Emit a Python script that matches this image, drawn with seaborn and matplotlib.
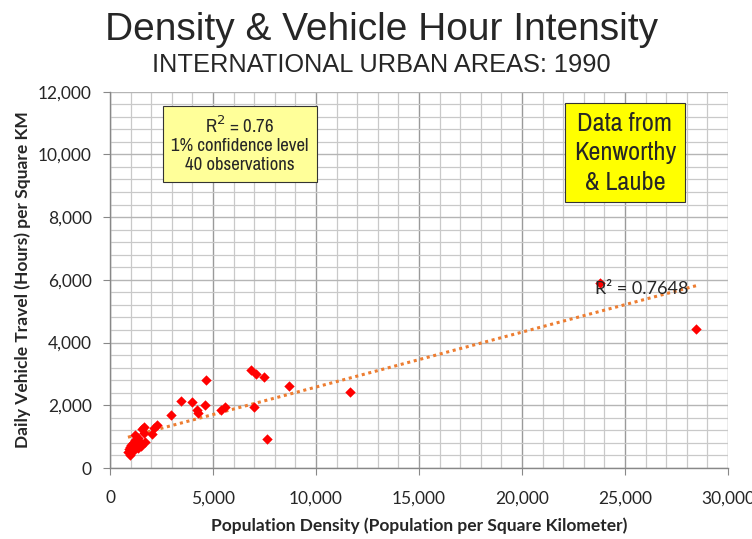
import numpy as np
import pandas as pd
import seaborn as sns
import matplotlib.pyplot as plt
from matplotlib.ticker import MultipleLocator, FuncFormatter

# ── Data (population/km², vehicle hours/km²) ────────────────────────────
density = [23800, 28450, 6850, 7090, 7480, 8670, 11650, 6990, 7600, 2980,
           3460, 4000, 4240, 4270, 4630, 4680, 5390, 5600, 2270, 2120,
           2060, 1650, 1550, 1650, 1360, 1440, 1200, 1120, 1040, 960,
           870, 960, 1000, 1280, 1360, 1700, 1210, 1100, 1500, 900]
vht = [5900, 4430, 3130, 3000, 2910, 2620, 2430, 1940, 930, 1700,
       2140, 2100, 1850, 1770, 2000, 2810, 1850, 1930, 1370, 1270,
       1100, 1320, 1240, 1110, 950, 820, 890, 790, 630, 680,
       520, 420, 730, 730, 630, 840, 1050, 550, 700, 600]
df = pd.DataFrame({"density": density, "vht": vht})

sns.set_theme(style="white")
plt.rcParams["font.family"] = ["Liberation Sans", "DejaVu Sans"]
NARROW = ["Archivo Narrow", "Liberation Sans"]
CALIBRI = ["Lato", "DejaVu Sans"]

fig = plt.figure(figsize=(7.52, 5.39), dpi=100)
ax = fig.add_axes([0.1463, 0.1317, 0.8217, 0.6982])

ax.set_xlim(0, 30000)
ax.set_ylim(0, 12000)
ax.xaxis.set_major_locator(MultipleLocator(5000))
ax.xaxis.set_minor_locator(MultipleLocator(1000))
ax.yaxis.set_major_locator(MultipleLocator(2000))
ax.yaxis.set_minor_locator(MultipleLocator(400))
ax.grid(which="minor", color="#c9c9c9", lw=0.9)
ax.grid(which="major", axis="x", color="#9a9a9a", lw=1.0)
ax.grid(which="major", axis="y", color="#b5b5b5", lw=1.0)
ax.set_axisbelow(True)

# linear trendline + points
sns.regplot(data=df, x="density", y="vht", scatter=False, ci=None,
            truncate=True, ax=ax,
            line_kws=dict(color="#ED7D31", lw=2.2, ls=(0, (1, 1.2))))
sns.scatterplot(data=df, x="density", y="vht", marker="D", s=28,
                color="#ff0000", linewidth=0, ax=ax, zorder=3)

ax.set_xlim(0, 30000)
ax.set_ylim(0, 12000)

fmt = FuncFormatter(lambda v, p: f"{v:,.0f}")
ax.xaxis.set_major_formatter(fmt)
ax.yaxis.set_major_formatter(fmt)
ax.tick_params(axis="both", which="major", labelsize=12.5, length=5,
               width=0.8, color="#888888", direction="out")
ax.tick_params(axis="y", pad=8)
ax.tick_params(axis="x", pad=11)
ax.tick_params(which="minor", length=0)
ax.tick_params(left=True, bottom=True)
for lab in ax.get_xticklabels() + ax.get_yticklabels():
    lab.set_family(CALIBRI)

for side in ["top", "right"]:
    ax.spines[side].set_visible(False)
for side in ["left", "bottom"]:
    ax.spines[side].set_color("#888888")
    ax.spines[side].set_linewidth(1.0)

ax.set_xlabel("Population Density (Population per Square Kilometer)",
              fontsize=12.5, fontweight="bold", family=CALIBRI, labelpad=8)
ax.set_ylabel("Daily Vehicle Travel (Hours) per Square KM",
              fontsize=12.5, fontweight="bold", family=CALIBRI, labelpad=5)

# ── Titles ───────────────────────────────────────────────────────────────
fig.text(0.508, 0.945, "Density & Vehicle Hour Intensity", ha="center",
         va="center", fontsize=28)
fig.text(0.507, 0.879, "INTERNATIONAL URBAN AREAS: 1990", ha="center",
         va="center", fontsize=18.3)

ax.text(25800, 5700, "R² = 0.7648", ha="center", va="center", fontsize=13,
        family=CALIBRI)

# ── Note boxes ───────────────────────────────────────────────────────────
ax.text(6300, 10340, "R$^2$ = 0.76\n1% confidence level\n40 observations",
        ha="center", va="center", fontsize=13.5, linespacing=1.2,
        family=NARROW,
        bbox=dict(boxstyle="square,pad=0.45", facecolor="#ffff99",
                  edgecolor="#333333", lw=0.8))
ax.text(25000, 10050, "Data from\nKenworthy\n& Laube",
        ha="center", va="center", fontsize=19, linespacing=1.34,
        family=NARROW,
        bbox=dict(boxstyle="square,pad=0.32", facecolor="#ffff00",
                  edgecolor="#333333", lw=0.8))

fig.savefig("out.png", dpi=100, facecolor="white")
